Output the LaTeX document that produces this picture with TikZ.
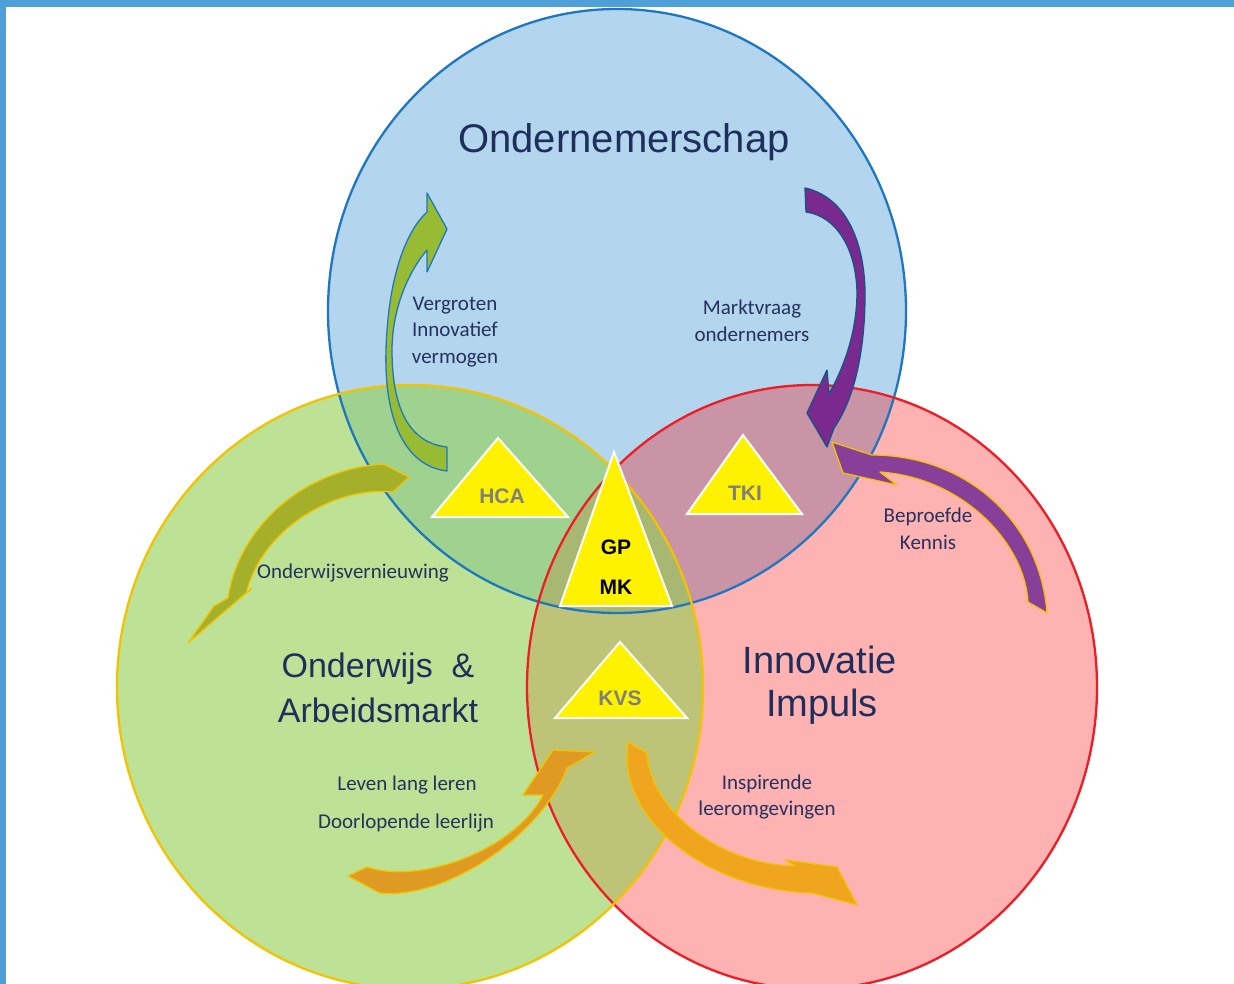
\documentclass[tikz,border=0pt]{standalone}
\usepackage{fontspec}
\setmainfont{Liberation Sans}
\newfontfamily\lblfont{Carlito}
\definecolor{frameblue}{HTML}{4F9FD8}
\definecolor{bluefill}{HTML}{B3D5EE}
\definecolor{bluestroke}{HTML}{1F78BF}
\definecolor{greenbase}{HTML}{92D050}
\definecolor{goldstroke}{HTML}{F2C300}
\definecolor{redstroke}{HTML}{EE1C25}
\definecolor{navy}{HTML}{1E2F5C}
\definecolor{lblcol}{HTML}{25325E}
\definecolor{arrgreen}{HTML}{97BC34}
\definecolor{arrpurple}{HTML}{7A2A8E}
\definecolor{arrolive}{HTML}{A5B02A}
\definecolor{arrorange}{HTML}{F0A51E}
\definecolor{arrorange2}{HTML}{DE9A22}
\definecolor{trigray}{HTML}{7F7F7F}
\tikzset{
  bigtxt/.style={font=\fontsize{38}{44}\selectfont, text=navy, align=center, inner sep=0pt},
  lbl/.style={font=\lblfont\fontsize{21}{26.5}\selectfont, text=lblcol, align=center, inner sep=0pt},
  trilbl/.style={font=\bfseries\fontsize{21}{24}\selectfont, text=trigray, inner sep=0pt},
  tri/.style={fill=yellow, draw=white, line width=2pt, line join=miter},
  circstroke/.style={line width=2.3pt},
  curvarrow/.style={line width=1.3pt, line join=round},
}
\begin{document}
\begin{tikzpicture}[x=1pt,y=-1pt]
\useasboundingbox (0,0) rectangle (1234,984);
\fill[white] (0,0) rectangle (1234,984);
% circles fills
\fill[bluefill] (617,311) ellipse [x radius=289pt, y radius=302pt];
\fill[red, fill opacity=0.3] (812,687) ellipse [x radius=285pt, y radius=302pt];
\fill[greenbase, fill opacity=0.6] (410,687) ellipse [x radius=293pt, y radius=302pt];
% strokes
\draw[circstroke, bluestroke] (617,311) ellipse [x radius=289pt, y radius=302pt];
\draw[circstroke, redstroke] (812,687) ellipse [x radius=285pt, y radius=302pt];
\draw[circstroke, goldstroke] (410,687) ellipse [x radius=293pt, y radius=302pt];
% frame
\fill[frameblue] (0,0) rectangle (1234,7);
\fill[frameblue] (0,0) rectangle (6,984);

% arrow 1: green, up
\filldraw[curvarrow, fill=arrgreen, draw=bluestroke]
 (447,471) .. controls (405,466) and (384,420) .. (386,350)
 .. controls (388,280) and (405,232) .. (427,212)
 -- (427,193) -- (447,229) -- (427,272) -- (427,250)
 .. controls (408,272) and (392,310) .. (392,350)
 .. controls (392,410) and (410,443) .. (447,447) -- cycle;

% arrow 2: purple, down
\filldraw[curvarrow, fill=arrpurple, draw=bluestroke!70!black]
 (805,188) .. controls (850,198) and (866,250) .. (865,300)
 .. controls (864,360) and (852,402) .. (834,428)
 -- (827,447) -- (807,413) -- (827,370) -- (829,394)
 .. controls (848,360) and (857,325) .. (857,292)
 .. controls (856,248) and (836,216) .. (806,212) -- cycle;

% arrow 3: olive, onderwijsvernieuwing
\filldraw[curvarrow, fill=arrolive, draw=goldstroke]
 (383,464) -- (409,477) -- (393,492)
 .. controls (335,486) and (262,528) .. (246,594)
 -- (252,588) -- (188,643) -- (214,606) -- (228,598)
 .. controls (238,530) and (300,470) .. (383,464) -- cycle;

% arrow 4: purple, beproefde kennis
\filldraw[curvarrow, fill=arrpurple!90!white, draw=goldstroke]
 (1047,613) -- (1028,602)
 .. controls (1025,545) and (965,478) .. (880,472)
 -- (897,485) -- (843,473) -- (832,442) -- (872,455)
 .. controls (965,455) and (1040,520) .. (1047,613) -- cycle;

% arrow 5: orange, leven lang leren
\filldraw[curvarrow, fill=arrorange2, draw=goldstroke]
 (348,876) -- (367,867)
 .. controls (420,885) and (515,850) .. (543,795)
 -- (523,795) -- (553,750) -- (595,752) -- (567,768)
 .. controls (545,830) and (450,900) .. (380,893) -- cycle;

% arrow 6: orange, inspirende
\filldraw[curvarrow, fill=arrorange, draw=goldstroke]
 (628,742) -- (647,753)
 .. controls (650,810) and (720,865) .. (795,866)
 -- (785,860) -- (837,867) -- (857,905) -- (812,893)
 .. controls (715,890) and (630,830) .. (627,760) -- cycle;

% triangles
\filldraw[tri] (498,438) -- (568,517) -- (432,517) -- cycle;
\filldraw[tri] (743,435) -- (802,514) -- (687,514) -- cycle;
\filldraw[tri] (614,452) -- (672,606) -- (560,606) -- cycle;
\filldraw[tri] (620,642) -- (687,718) -- (555,718) -- cycle;
\node[trilbl] (hca) at (502,496) {HCA};
\node[trilbl] (tki) at (745,493) {TKI};
\node[trilbl, text=black] (gp) at (616,547) {GP};
\node[trilbl, text=black] (mk) at (616,587) {MK};
\node[trilbl] (kvs) at (620,698) {KVS};

% big texts
\node[bigtxt, font=\fontsize{40}{46}\selectfont, anchor=base] (ond) at (624,153) {Ondernemerschap};
\node[bigtxt, font=\fontsize{34}{45}\selectfont, anchor=base] (ow1) at (378,677) {Onderwijs \ \&};
\node[bigtxt, font=\fontsize{34}{45}\selectfont, anchor=base] (ow2) at (378,722) {Arbeidsmarkt};
\node[bigtxt, anchor=base] (inn1) at (820,673) {Innovatie};
\node[bigtxt, anchor=base] (inn2) at (822,716) {Impuls};

% labels
\node[lbl] (l1) at (455,332) {Vergroten\\Innovatief\\vermogen};
\node[lbl] (l2) at (752,321) {Marktvraag\\ondernemers};
\node[lbl] (l3) at (353,573) {Onderwijsvernieuwing};
\node[lbl] (l4) at (928,529) {Beproefde\\Kennis};
\node[lbl] (l5) at (407,785) {Leven lang leren};
\node[lbl] (l6) at (406,823) {Doorlopende leerlijn};
\node[lbl] (l7) at (767,797) {Inspirende\\leeromgevingen};
\end{tikzpicture}
\end{document}
